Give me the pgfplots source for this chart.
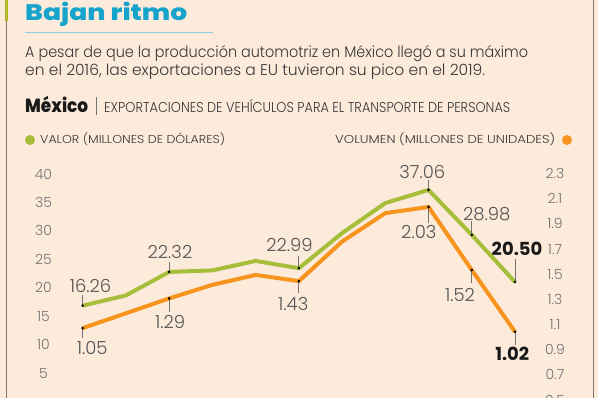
\documentclass[border=0pt]{standalone}
\usepackage{pgfplots}
\pgfplotsset{compat=1.18}
\usepackage{fontspec}
\setmainfont{Poppins}[UprightFont={* Light},BoldFont={* Bold}]
\newfontfamily\heavy{Poppins ExtraBold}
\usepackage{graphicx}
\definecolor{bg}{RGB}{252,234,219}
\definecolor{titleblue}{RGB}{22,163,204}
\definecolor{ulblue}{RGB}{140,205,225}
\definecolor{barg}{RGB}{175,185,40}
\definecolor{border}{RGB}{140,120,105}
\definecolor{gline}{RGB}{166,190,58}
\definecolor{oline}{RGB}{247,148,29}
\definecolor{lblgray}{RGB}{85,85,85}
\definecolor{tickgray}{RGB}{115,115,115}
\definecolor{txt}{RGB}{55,55,55}
\newcommand\fitw[2]{\resizebox{#1}{\height}{#2}}
\newcommand\lbl{\fontsize{18}{18}\selectfont}
\begin{document}
\begin{tikzpicture}
\path[use as bounding box, clip] (0pt,0pt) rectangle (598pt,398pt);
\begin{scope}[x=1pt,y=1pt]
\fill[bg] (0,0) rectangle (598,398);
% frame
\fill[barg] (4.7,377.3) rectangle (8.3,398);
\draw[border, line width=0.9pt] (6,0) -- (6,377.3);
\draw[border, line width=0.9pt] (593.5,0) -- (593.5,398);
% title
\node[anchor=base west, inner sep=0, text=titleblue] at (25,377.3) {\fitw{162pt}{\fontsize{22.5}{24}\selectfont\heavy Bajan ritmo}};
\draw[ulblue, line width=1pt] (25,365.7) -- (213,365.7);
\node[anchor=base west, inner sep=0, text=txt] at (25,340.7) {\fitw{503pt}{\fontsize{15.5}{16}\selectfont A pesar de que la producción automotriz en México llegó a su máximo}};
\node[anchor=base west, inner sep=0, text=txt] at (25,322) {\fitw{460pt}{\fontsize{15.5}{16}\selectfont en el 2016, las exportaciones a EU tuvieron su pico en el 2019.}};
% header
\node[anchor=base west, inner sep=0, text=black!90] at (25,285.3) {\fitw{63pt}{\fontsize{19}{19}\selectfont\heavy México}};
\draw[tickgray, line width=0.7pt] (96.7,301) -- (96.7,283);
\node[anchor=base west, inner sep=0, text=txt] at (104,285.3) {\fitw{406pt}{\fontsize{14.3}{15}\selectfont EXPORTACIONES DE VEHÍCULOS PARA EL TRANSPORTE DE PERSONAS}};
% legend
\fill[gline] (30,258) circle[radius=5pt];
\node[anchor=base west, inner sep=0, text=txt] at (40,254) {\fitw{185pt}{\fontsize{11.5}{12}\selectfont VALOR (MILLONES DE DÓLARES)}};
\node[anchor=base west, inner sep=0, text=txt] at (335,254) {\fitw{220pt}{\fontsize{11.5}{12}\selectfont VOLUMEN (MILLONES DE UNIDADES)}};
\fill[oline] (567,258) circle[radius=5pt];
\end{scope}
% left axis: value
\begin{axis}[at={(82.7pt,1.9pt)}, anchor=south west, scale only axis,
  width=432.3pt, height=222.5pt, xmin=0, xmax=10, ymin=0, ymax=40,
  clip=false, axis line style={draw=none}, major tick length=0pt,
  xtick=\empty,
  ytick={4.13,9.24,14.36,19.47,24.59,29.70,34.82,39.93},
  yticklabels={5,10,15,20,25,30,35,40},
  ytick pos=left,
  yticklabel style={anchor=center, xshift=-39.2pt, inner sep=0pt,
    font=\fontsize{14}{14}\selectfont, text=tickgray}]
\addplot[gline, line width=4pt, mark=none] coordinates {
(0,16.26)(1,18.1)(2,22.32)(3,22.6)(4,24.3)(5,22.99)(6,29.3)(7,34.7)(8,37.06)(9,28.98)(10,20.50)};
\draw[tickgray, line width=0.8pt] (axis cs:0,16.26) -- ++(0pt,10.7pt);
\draw[tickgray, line width=0.8pt] (axis cs:2,22.32) -- ++(0pt,10pt);
\draw[tickgray, line width=0.8pt] (axis cs:5,22.99) -- ++(0pt,12.3pt);
\draw[tickgray, line width=0.8pt] (axis cs:8,37.06) -- ++(0pt,10pt);
\draw[tickgray, line width=0.8pt] (axis cs:9,28.98) -- ++(0pt,14pt);
\draw[tickgray, line width=0.8pt] (axis cs:10,20.50) -- ++(0pt,22.7pt);
\addplot[only marks, mark=*, mark size=1.1pt, black] coordinates {
(0,16.26)(2,22.32)(5,22.99)(8,37.06)(9,28.98)(10,20.50)};
\node[anchor=base, inner sep=0, text=lblgray, font=\lbl, xshift=7.8pt, yshift=13.4pt] at (axis cs:0,16.26) {16.26};
\node[anchor=base, inner sep=0, text=lblgray, font=\lbl, xshift=0.8pt, yshift=13.4pt] at (axis cs:2,22.32) {22.32};
\node[anchor=base, inner sep=0, text=lblgray, font=\lbl, xshift=-9.4pt, yshift=16.6pt] at (axis cs:5,22.99) {22.99};
\node[anchor=base, inner sep=0, text=lblgray, font=\lbl, xshift=-6.2pt, yshift=11.7pt] at (axis cs:8,37.06) {37.06};
\node[anchor=base, inner sep=0, text=lblgray, font=\lbl, xshift=14.9pt, yshift=14.3pt] at (axis cs:9,28.98) {28.98};
\node[anchor=base, inner sep=0, text=black!90, font=\lbl\bfseries, xshift=2pt, yshift=26.7pt] at (axis cs:10,20.50) {20.50};
\end{axis}
% right axis: volume
\begin{axis}[at={(82.7pt,-4.28pt)}, anchor=south west, scale only axis,
  width=432.3pt, height=228.68pt, xmin=0, xmax=10, ymin=0.45, ymax=2.3,
  clip=false, axis line style={draw=none}, major tick length=0pt,
  xtick=\empty,
  ytick={0.468,0.6715,0.8751,1.0786,1.2822,1.4858,1.6893,1.8929,2.0964,2.2992},
  yticklabels={0.5,0.7,0.9,1.1,1.3,1.5,1.7,1.9,2.1,2.3},
  ytick pos=right, yticklabel pos=right,
  yticklabel style={anchor=center, xshift=40pt, inner sep=0pt,
    font=\fontsize{14}{14}\selectfont, text=tickgray}]
\addplot[oline, line width=4pt, mark=none] coordinates {
(0,1.05)(1,1.17)(2,1.29)(3,1.40)(4,1.48)(5,1.43)(6,1.75)(7,1.98)(8,2.03)(9,1.52)(10,1.02)};
\draw[tickgray, line width=0.8pt] (axis cs:0,1.05) -- ++(0pt,-10pt);
\draw[tickgray, line width=0.8pt] (axis cs:2,1.29) -- ++(0pt,-13.3pt);
\draw[tickgray, line width=0.8pt] (axis cs:5,1.43) -- ++(0pt,-11.7pt);
\draw[tickgray, line width=0.8pt] (axis cs:8,2.03) -- ++(0pt,-15.7pt);
\draw[tickgray, line width=0.8pt] (axis cs:9,1.52) -- ++(0pt,-13.3pt);
\draw[tickgray, line width=0.8pt] (axis cs:10,1.02) -- ++(0pt,-13.3pt);
\addplot[only marks, mark=*, mark size=1.1pt, black] coordinates {
(0,1.05)(2,1.29)(5,1.43)(8,2.03)(9,1.52)(10,1.02)};
\node[anchor=base, inner sep=0, text=lblgray, font=\lbl, xshift=9.5pt, yshift=-26pt] at (axis cs:0,1.05) {1.05};
\node[anchor=base, inner sep=0, text=lblgray, font=\lbl, xshift=1pt, yshift=-29.6pt] at (axis cs:2,1.29) {1.29};
\node[anchor=base, inner sep=0, text=lblgray, font=\lbl, xshift=-5.6pt, yshift=-29.3pt] at (axis cs:5,1.43) {1.43};
\node[anchor=base, inner sep=0, text=lblgray, font=\lbl, xshift=-9.7pt, yshift=-31.3pt] at (axis cs:8,2.03) {2.03};
\node[anchor=base, inner sep=0, text=lblgray, font=\lbl, xshift=-11.8pt, yshift=-31.7pt] at (axis cs:9,1.52) {1.52};
\node[anchor=base, inner sep=0, text=black!90, font=\lbl\bfseries, xshift=-2.7pt, yshift=-29pt] at (axis cs:10,1.02) {1.02};
\end{axis}
\end{tikzpicture}
\end{document}
